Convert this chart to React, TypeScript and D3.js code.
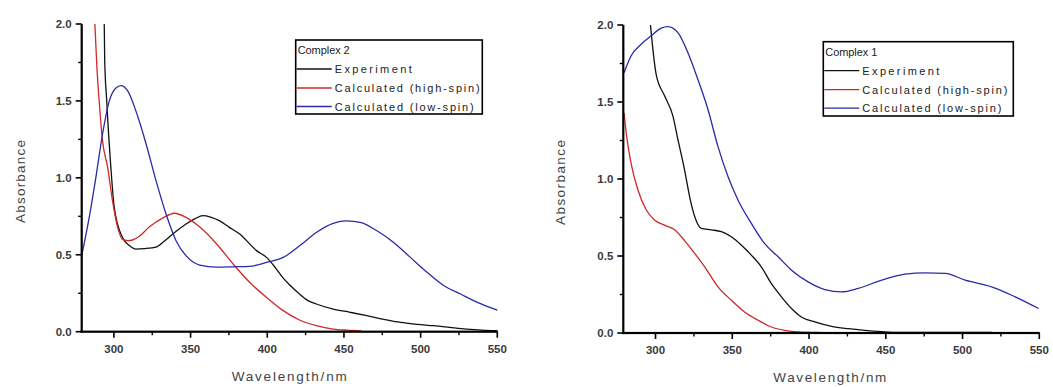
import React from "react";
import * as d3 from "d3";

// ---------- Data (wavelength nm, absorbance) ----------
// Complex 2 (left panel)
const c2ExpX = [293.7, 294, 295.2, 298, 300.2, 305.7, 310, 314.4, 320, 327.5, 333, 338.4, 347, 353, 358, 363, 369, 375, 382, 393, 399.5, 405, 410, 415, 421, 426, 432, 443, 454, 465, 476, 487, 498, 508.5, 519, 530, 540, 550];
const c2ExpY = [2.0, 1.76, 1.52, 1.07, 0.81, 0.61, 0.56, 0.537, 0.54, 0.55, 0.59, 0.635, 0.70, 0.735, 0.754, 0.745, 0.72, 0.68, 0.635, 0.527, 0.483, 0.42, 0.353, 0.30, 0.245, 0.205, 0.18, 0.147, 0.126, 0.104, 0.08, 0.06, 0.048, 0.039, 0.028, 0.017, 0.01, 0.006];

const c2HighX = [287.6, 288.9, 290.4, 292.6, 295.9, 299.1, 302.4, 305.7, 309, 312.2, 316.6, 323, 332, 339.5, 347, 356, 367, 377.7, 388.6, 399.5, 410.4, 421, 432, 443, 452, 461.6];
const c2HighY = [2.0, 1.72, 1.5, 1.24, 1.07, 0.85, 0.68, 0.60, 0.592, 0.596, 0.62, 0.68, 0.74, 0.77, 0.743, 0.68, 0.57, 0.44, 0.32, 0.223, 0.137, 0.076, 0.039, 0.017, 0.01, 0.006];

const c2LowX = [279, 283.9, 288.2, 292.6, 297, 301.3, 304.6, 308.9, 315.5, 321, 327.5, 334, 340.6, 347, 356, 366.8, 377.7, 388.6, 399.5, 410.4, 421.3, 432.2, 443, 451.8, 460.6, 471.5, 482.4, 493.3, 504.2, 515, 526, 537, 550];
const c2LowY = [0.494, 0.743, 1.0, 1.285, 1.5, 1.584, 1.6, 1.567, 1.40, 1.22, 0.98, 0.765, 0.59, 0.494, 0.433, 0.42, 0.422, 0.425, 0.45, 0.483, 0.56, 0.646, 0.704, 0.72, 0.71, 0.656, 0.58, 0.483, 0.386, 0.30, 0.245, 0.19, 0.14];

// Complex 1 (right panel)
const c1ExpX = [296.7, 300.4, 305.9, 311.3, 314.6, 318.9, 322.2, 325.5, 329.8, 336.3, 342.9, 349.4, 356, 362.4, 368.9, 375.5, 382, 388.6, 395, 403.8, 414.7, 425.5, 436.4, 447.3, 458, 480, 500, 519];
const c1ExpY = [2.0, 1.68, 1.54, 1.41, 1.255, 1.06, 0.886, 0.756, 0.68, 0.67, 0.658, 0.625, 0.57, 0.506, 0.43, 0.32, 0.235, 0.159, 0.104, 0.072, 0.043, 0.028, 0.017, 0.009, 0.004, 0.004, 0.004, 0.004];

const c1HighX = [279.5, 280.9, 284.1, 288.5, 293.9, 299.3, 305.9, 312.4, 318.9, 325.5, 332, 340.7, 349.4, 358, 366.8, 375.5, 384.2, 392.9, 407];
const c1HighY = [1.43, 1.30, 1.10, 0.93, 0.80, 0.734, 0.70, 0.67, 0.60, 0.517, 0.43, 0.30, 0.213, 0.137, 0.083, 0.039, 0.017, 0.007, 0.004];

const c1LowX = [279.5, 284.1, 290.6, 297.2, 303.7, 308, 314.6, 321.1, 327.6, 334.2, 340.7, 347.2, 353.7, 362.4, 371.1, 379.9, 388.6, 399.4, 410.3, 421.2, 432, 447.3, 462.5, 475.6, 488.6, 501.7, 519, 534.3, 549.6];
const c1LowY = [1.69, 1.80, 1.875, 1.93, 1.98, 1.99, 1.95, 1.82, 1.646, 1.45, 1.21, 1.016, 0.864, 0.712, 0.58, 0.495, 0.408, 0.332, 0.282, 0.267, 0.289, 0.343, 0.382, 0.391, 0.387, 0.343, 0.30, 0.235, 0.159];

const xMajorTicks = [300, 350, 400, 450, 500, 550];
const xMinorTicks = [325, 375, 425, 475, 525];
const yMajorTicks = [0, 0.5, 1.0, 1.5, 2.0];
const yMinorTicks = [0.25, 0.75, 1.25, 1.75];
const seriesNames = ["Experiment", "Calculated (high-spin)", "Calculated (low-spin)"];
const seriesColors = ["#111111", "#d02828", "#2a2aa8"];

const FONT = "Arial, 'Liberation Sans', sans-serif";

type Box = { x0: number; x1: number; y0: number; y1: number };

const leftBox: Box = { x0: 81.7, x1: 497.3, y0: 24, y1: 331.7 };
const rightBox: Box = { x0: 623.3, x1: 1039.3, y0: 25, y1: 333 };

function scalesFor(b: Box) {
  const xs = d3.scaleLinear().domain([279, 550]).range([b.x0, b.x1]);
  const ys = d3.scaleLinear().domain([0, 2]).range([b.y1, b.y0]);
  return { xs, ys };
}

type PanelProps = {
  box: Box;
  title: string;
  series: { x: number[]; y: number[] }[];
  legend: { left: number; right: number; top: number; bottom: number };
  xLabelX: number; xLabelW: number;
  yLabelX: number; yLabelTop: number; yLabelBottom: number;
};

function Panel(p: PanelProps) {
  const { xs, ys } = scalesFor(p.box);
  const b = p.box;
  const line = d3
    .line<[number, number]>()
    .x((d) => xs(d[0]))
    .y((d) => ys(d[1]))
    .curve(d3.curveMonotoneX);
  const lg = p.legend;
  const rowY = [lg.top + 29, lg.top + 48, lg.top + 66.5];
  const yMid = (p.yLabelTop + p.yLabelBottom) / 2;
  const yLen = p.yLabelBottom - p.yLabelTop;

  return (
    <g>
      {p.series.map((s, i) => (
        <path
          key={i}
          d={line(s.x.map((v, k) => [v, s.y[k]] as [number, number])) || ""}
          fill="none"
          stroke={seriesColors[i]}
          strokeWidth={1.3}
        />
      ))}
      {xMajorTicks.map((t) => (
        <text key={"xl" + t} x={xs(t)} y={b.y1 + 21} textAnchor="middle" fontFamily={FONT} fontSize={11.5} fontWeight="bold" fill="#3a3a3a">
          {t}
        </text>
      ))}
      {yMajorTicks.map((t) => (
        <text key={"yl" + t} x={b.x0 - 10} y={ys(t) + 4} textAnchor="end" fontFamily={FONT} fontSize={11.5} fontWeight="bold" fill="#3a3a3a">
          {t.toFixed(1)}
        </text>
      ))}
      <text
        x={p.xLabelX}
        y={b.y1 + 49}
        fontFamily={FONT}
        fontSize={13.5}
        fill="#444"
        textLength={p.xLabelW}
        lengthAdjust="spacing"
      >
        Wavelength/nm
      </text>
      <text
        transform={`translate(${p.yLabelX},${yMid}) rotate(-90)`}
        textAnchor="middle"
        fontFamily={FONT}
        fontSize={13.5}
        fill="#444"
        textLength={yLen}
        lengthAdjust="spacing"
      >
        Absorbance
      </text>
      <rect x={lg.left} y={lg.top} width={lg.right - lg.left} height={lg.bottom - lg.top} fill="#fff" stroke="#000" strokeWidth={1.6} />
      <text x={lg.left + 2} y={lg.top + 14} fontFamily={FONT} fontSize={11} fill="#222" textLength={52} lengthAdjust="spacing">
        {p.title}
      </text>
      {seriesNames.map((n, i) => (
        <g key={n}>
          <path d={`M${lg.left + 1},${rowY[i]}H${lg.left + 36}`} stroke={seriesColors[i]} strokeWidth={1.3} />
          <text
            x={lg.left + 39}
            y={rowY[i] + 4}
            fontFamily={FONT}
            fontSize={11}
            fill="#222"
            textLength={i === 0 ? 77 : i === 1 ? 145 : 139}
            lengthAdjust="spacing"
          >
            {n}
          </text>
        </g>
      ))}
    </g>
  );
}

// Axis frame and ticks, drawn on top of everything
function AxisFrame({ box }: { box: Box }) {
  const { xs, ys } = scalesFor(box);
  const AW = 2.2;
  return (
    <g>
      <rect x={box.x0 - AW / 2} y={box.y0} width={AW} height={box.y1 - box.y0 + AW / 2} fill="#000000" />
      <rect x={box.x0 - AW / 2} y={box.y1 - AW / 2} width={box.x1 - box.x0 + AW / 2 + 0.5} height={AW} fill="#000000" />
      {xMajorTicks.map((t) => (
        <rect key={"xt" + t} x={xs(t) - 0.8} y={box.y1} width={1.6} height={6} fill="#000000" />
      ))}
      {xMinorTicks.map((t) => (
        <rect key={"xn" + t} x={xs(t) - 0.7} y={box.y1} width={1.4} height={3.5} fill="#000000" />
      ))}
      {yMajorTicks.map((t) => (
        <rect key={"yt" + t} x={box.x0 - 6} y={ys(t) - 0.8} width={6} height={1.6} fill="#000000" />
      ))}
      {yMinorTicks.map((t) => (
        <rect key={"yn" + t} x={box.x0 - 3.5} y={ys(t) - 0.7} width={3.5} height={1.4} fill="#000000" />
      ))}
    </g>
  );
}

export default function App() {
  return (
    <svg width={1053} height={387} style={{ position: "absolute", left: 0, top: 0 }}>
      <rect x={0} y={0} width={1053} height={387} fill="#fff" />
      <Panel
        box={leftBox}
        title="Complex 2"
        series={[
          { x: c2ExpX, y: c2ExpY },
          { x: c2HighX, y: c2HighY },
          { x: c2LowX, y: c2LowY },
        ]}
        legend={{ left: 295.7, right: 482.3, top: 40, bottom: 114 }}
        xLabelX={231.7}
        xLabelW={115}
        yLabelX={25}
        yLabelTop={140}
        yLabelBottom={223}
      />
      <Panel
        box={rightBox}
        title="Complex 1"
        series={[
          { x: c1ExpX, y: c1ExpY },
          { x: c1HighX, y: c1HighY },
          { x: c1LowX, y: c1LowY },
        ]}
        legend={{ left: 823.3, right: 1013.3, top: 41.7, bottom: 116 }}
        xLabelX={773.3}
        xLabelW={113}
        yLabelX={565}
        yLabelTop={140}
        yLabelBottom={225}
      />
      <AxisFrame box={leftBox} />
      <AxisFrame box={rightBox} />
    </svg>
  );
}
